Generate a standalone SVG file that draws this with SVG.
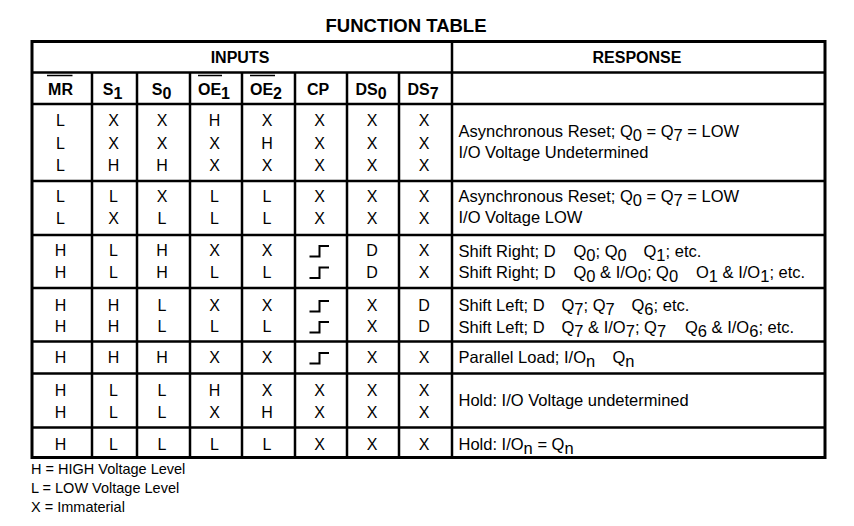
<svg xmlns="http://www.w3.org/2000/svg" xmlns:xlink="http://www.w3.org/1999/xlink" width="854" height="526" viewBox="0 0 854 526">
<style>
text{font-family:"Liberation Sans",Arial,sans-serif;fill:#000}
.title{font-size:18.5px;font-weight:bold;text-anchor:middle}
.h{font-size:16px;font-weight:bold;text-anchor:middle}
.d{font-size:16px;text-anchor:middle}
.r{font-size:16.5px}
.f{font-size:14.5px}
.s{baseline-shift:-3.5px}
.grid line{stroke:#000;stroke-width:2.5}
.ov{stroke:#000;stroke-width:1.5}
.cp{fill:none;stroke:#000;stroke-width:2}
</style>
<defs>
<path id="cp" class="cp" d="M-10,0.5 H0 V-10 H9.5"/>
</defs>
<rect width="854" height="526" fill="#fff"/>
<text id="title" class="title" x="406" y="31.5">FUNCTION TABLE</text>
<g id="grid" class="grid">
<rect x="32" y="41.5" width="793" height="416" fill="none" stroke="#000" stroke-width="3"/>
<line x1="32" y1="72.5" x2="825" y2="72.5"/>
<line x1="32" y1="104" x2="825" y2="104"/>
<line x1="32" y1="181" x2="825" y2="181"/>
<line x1="32" y1="235" x2="825" y2="235"/>
<line x1="32" y1="288" x2="825" y2="288"/>
<line x1="32" y1="341.5" x2="825" y2="341.5"/>
<line x1="32" y1="373.5" x2="825" y2="373.5"/>
<line x1="32" y1="427.5" x2="825" y2="427.5"/>
<line x1="452" y1="41.5" x2="452" y2="457.5"/>
<line x1="92" y1="72.5" x2="92" y2="457.5"/>
<line x1="137" y1="72.5" x2="137" y2="457.5"/>
<line x1="190" y1="72.5" x2="190" y2="457.5"/>
<line x1="242" y1="72.5" x2="242" y2="457.5"/>
<line x1="295" y1="72.5" x2="295" y2="457.5"/>
<line x1="347" y1="72.5" x2="347" y2="457.5"/>
<line x1="399" y1="72.5" x2="399" y2="457.5"/>
</g>
<g id="header">
<text class="h" x="240" y="63">INPUTS</text>
<text class="h" x="637" y="63">RESPONSE</text>
<text class="h" x="60.5" y="94.5">MR</text>
<text class="h" x="112.5" y="94.5">S<tspan class="s">1</tspan></text>
<text class="h" x="161.5" y="94.5">S<tspan class="s">0</tspan></text>
<text class="h" x="214" y="94.5">OE<tspan class="s">1</tspan></text>
<text class="h" x="266" y="94.5">OE<tspan class="s">2</tspan></text>
<text class="h" x="318" y="94.5">CP</text>
<text class="h" x="371" y="94.5">DS<tspan class="s">0</tspan></text>
<text class="h" x="423" y="94.5">DS<tspan class="s">7</tspan></text>
<line class="ov" x1="47" y1="75.5" x2="72.5" y2="75.5"/>
<line class="ov" x1="198" y1="75.5" x2="222" y2="75.5"/>
<line class="ov" x1="250" y1="75.5" x2="275" y2="75.5"/>
</g>
<g id="inputs">
<text class="d" y="126.3"><tspan x="60.5">L</tspan><tspan x="113.5">X</tspan><tspan x="162">X</tspan><tspan x="214.5">H</tspan><tspan x="267">X</tspan><tspan x="319.5">X</tspan><tspan x="372">X</tspan><tspan x="424">X</tspan></text>
<text class="d" y="148.7"><tspan x="60.5">L</tspan><tspan x="113.5">X</tspan><tspan x="162">X</tspan><tspan x="214.5">X</tspan><tspan x="267">H</tspan><tspan x="319.5">X</tspan><tspan x="372">X</tspan><tspan x="424">X</tspan></text>
<text class="d" y="170.8"><tspan x="60.5">L</tspan><tspan x="113.5">H</tspan><tspan x="162">H</tspan><tspan x="214.5">X</tspan><tspan x="267">X</tspan><tspan x="319.5">X</tspan><tspan x="372">X</tspan><tspan x="424">X</tspan></text>
<text class="d" y="202"><tspan x="60.5">L</tspan><tspan x="113.5">L</tspan><tspan x="162">X</tspan><tspan x="214.5">L</tspan><tspan x="267">L</tspan><tspan x="319.5">X</tspan><tspan x="372">X</tspan><tspan x="424">X</tspan></text>
<text class="d" y="224"><tspan x="60.5">L</tspan><tspan x="113.5">X</tspan><tspan x="162">L</tspan><tspan x="214.5">L</tspan><tspan x="267">L</tspan><tspan x="319.5">X</tspan><tspan x="372">X</tspan><tspan x="424">X</tspan></text>
<text class="d" y="256"><tspan x="60.5">H</tspan><tspan x="113.5">L</tspan><tspan x="162">H</tspan><tspan x="214.5">X</tspan><tspan x="267">X</tspan><tspan x="372">D</tspan><tspan x="424">X</tspan></text>
<text class="d" y="277.5"><tspan x="60.5">H</tspan><tspan x="113.5">L</tspan><tspan x="162">H</tspan><tspan x="214.5">L</tspan><tspan x="267">L</tspan><tspan x="372">D</tspan><tspan x="424">X</tspan></text>
<text class="d" y="311"><tspan x="60.5">H</tspan><tspan x="113.5">H</tspan><tspan x="162">L</tspan><tspan x="214.5">X</tspan><tspan x="267">X</tspan><tspan x="372">X</tspan><tspan x="424">D</tspan></text>
<text class="d" y="332"><tspan x="60.5">H</tspan><tspan x="113.5">H</tspan><tspan x="162">L</tspan><tspan x="214.5">L</tspan><tspan x="267">L</tspan><tspan x="372">X</tspan><tspan x="424">D</tspan></text>
<text class="d" y="363"><tspan x="60.5">H</tspan><tspan x="113.5">H</tspan><tspan x="162">H</tspan><tspan x="214.5">X</tspan><tspan x="267">X</tspan><tspan x="372">X</tspan><tspan x="424">X</tspan></text>
<text class="d" y="396"><tspan x="60.5">H</tspan><tspan x="113.5">L</tspan><tspan x="162">L</tspan><tspan x="214.5">H</tspan><tspan x="267">X</tspan><tspan x="319.5">X</tspan><tspan x="372">X</tspan><tspan x="424">X</tspan></text>
<text class="d" y="418"><tspan x="60.5">H</tspan><tspan x="113.5">L</tspan><tspan x="162">L</tspan><tspan x="214.5">X</tspan><tspan x="267">H</tspan><tspan x="319.5">X</tspan><tspan x="372">X</tspan><tspan x="424">X</tspan></text>
<text class="d" y="449.5"><tspan x="60.5">H</tspan><tspan x="113.5">L</tspan><tspan x="162">L</tspan><tspan x="214.5">L</tspan><tspan x="267">L</tspan><tspan x="319.5">X</tspan><tspan x="372">X</tspan><tspan x="424">X</tspan></text>
<use xlink:href="#cp" x="319.5" y="256"/>
<use xlink:href="#cp" x="319.5" y="277.5"/>
<use xlink:href="#cp" x="319.5" y="311"/>
<use xlink:href="#cp" x="319.5" y="332"/>
<use xlink:href="#cp" x="319.5" y="363"/>
</g>
<g id="response">
<text class="r" x="458.5" y="137">Asynchronous Reset; Q<tspan class="s">0</tspan> = Q<tspan class="s">7</tspan> = LOW</text>
<text class="r" x="458.5" y="158">I/O Voltage Undetermined</text>
<text class="r" x="458.5" y="202">Asynchronous Reset; Q<tspan class="s">0</tspan> = Q<tspan class="s">7</tspan> = LOW</text>
<text class="r" x="458.5" y="223">I/O Voltage LOW</text>
<text class="r" y="256.5"><tspan x="458.5">Shift Right; D</tspan><tspan x="573.5">Q</tspan><tspan class="s">0</tspan><tspan>; Q</tspan><tspan class="s">0</tspan><tspan x="643.5">Q</tspan><tspan class="s">1</tspan><tspan>; etc.</tspan></text>
<text class="r" y="277.5"><tspan x="458.5">Shift Right; D</tspan><tspan x="573.5">Q</tspan><tspan class="s">0</tspan><tspan> &amp; I/O</tspan><tspan class="s">0</tspan><tspan>; Q</tspan><tspan class="s">0</tspan><tspan x="696">O</tspan><tspan class="s">1</tspan><tspan> &amp; I/O</tspan><tspan class="s">1</tspan><tspan>; etc.</tspan></text>
<text class="r" y="311"><tspan x="458.5">Shift Left; D</tspan><tspan x="561.5">Q</tspan><tspan class="s">7</tspan><tspan>; Q</tspan><tspan class="s">7</tspan><tspan x="631.5">Q</tspan><tspan class="s">6</tspan><tspan>; etc.</tspan></text>
<text class="r" y="332.5"><tspan x="458.5">Shift Left; D</tspan><tspan x="561.5">Q</tspan><tspan class="s">7</tspan><tspan> &amp; I/O</tspan><tspan class="s">7</tspan><tspan>; Q</tspan><tspan class="s">7</tspan><tspan x="685">Q</tspan><tspan class="s">6</tspan><tspan> &amp; I/O</tspan><tspan class="s">6</tspan><tspan>; etc.</tspan></text>
<text class="r" y="363"><tspan x="458.5">Parallel Load; I/O</tspan><tspan class="s">n</tspan><tspan x="612.5">Q</tspan><tspan class="s">n</tspan></text>
<text class="r" x="458.5" y="406">Hold: I/O Voltage undetermined</text>
<text class="r" x="458.5" y="450">Hold: I/O<tspan class="s">n</tspan> = Q<tspan class="s">n</tspan></text>
</g>
<g id="legend">
<text class="f" x="31" y="474">H = HIGH Voltage Level</text>
<text class="f" x="31" y="493">L = LOW Voltage Level</text>
<text class="f" x="31" y="511.5">X = Immaterial</text>
</g>
</svg>
